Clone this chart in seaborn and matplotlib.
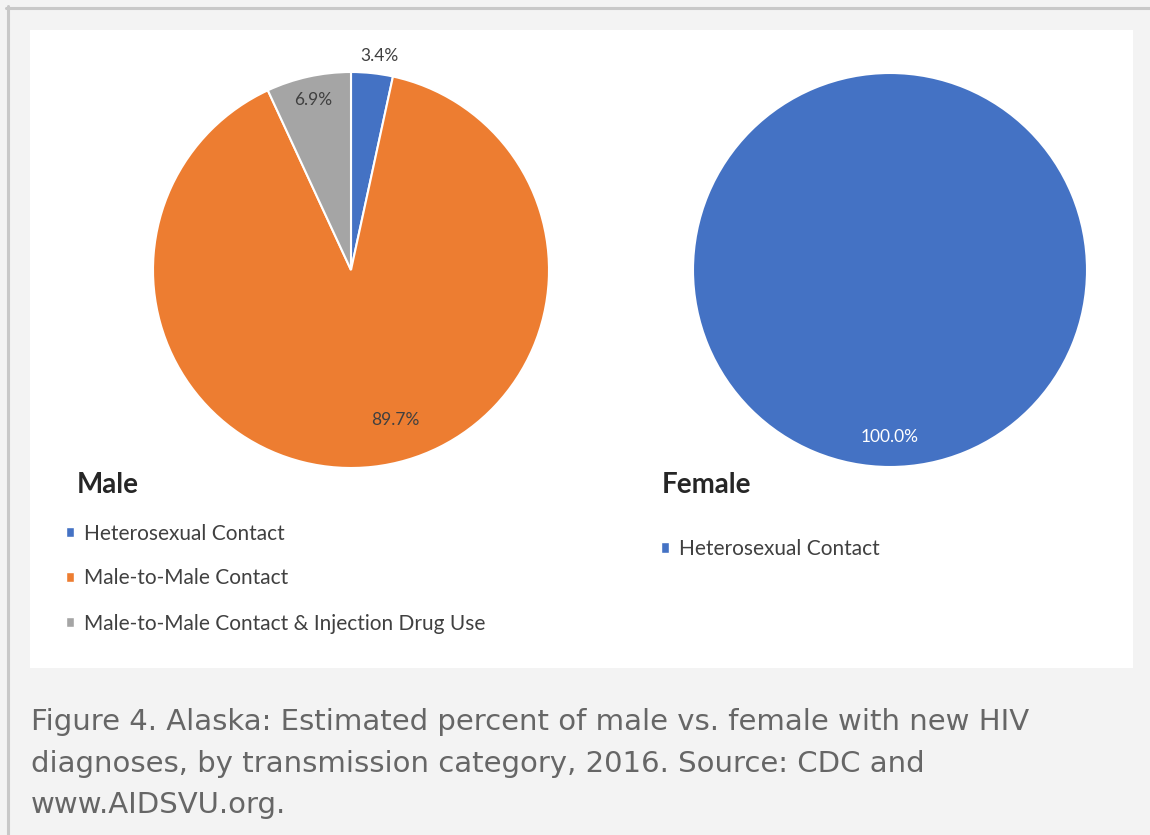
import matplotlib
matplotlib.use("Agg")
import numpy as np
import matplotlib.pyplot as plt
import seaborn as sns
from matplotlib.patches import Patch, Rectangle
from matplotlib.lines import Line2D

# ---- data ----
male_categories = ["Heterosexual Contact", "Male-to-Male Contact",
                   "Male-to-Male Contact & Injection Drug Use"]
male_values = [3.4, 89.7, 6.9]
female_categories = ["Heterosexual Contact"]
female_values = [100.0]
caption_lines = [
    "Figure 4. Alaska: Estimated percent of male vs. female with new HIV",
    "diagnoses, by transmission category, 2016. Source: CDC and",
    "www.AIDSVU.org.",
]

sns.set_theme(style="white")
plt.rcParams['font.family'] = ['Lato', 'DejaVu Sans']
palette = sns.color_palette(["#4472C4", "#ED7D31", "#A5A5A5"])

W, H = 1150, 835
fig = plt.figure(figsize=(W / 100, H / 100), dpi=100, facecolor="#f3f3f3")

# white panel and frame lines
fig.add_artist(Rectangle((30 / W, 1 - 668 / H), (1133 - 30) / W, (668 - 30) / H,
                         transform=fig.transFigure, facecolor="white",
                         edgecolor="none", zorder=0))
fig.add_artist(Line2D([6 / W, 1], [1 - 7.5 / H, 1 - 7.5 / H], transform=fig.transFigure,
                      color="#c8c8c8", lw=2.2))
fig.add_artist(Line2D([7.5 / W, 7.5 / W], [0, 1 - 6 / H], transform=fig.transFigure,
                      color="#c8c8c8", lw=2.2))


def px_axes(cx, cy, r, lim=1.25):
    size = 2 * lim * r
    ax = fig.add_axes([(cx - size / 2) / W, (H - cy - size / 2) / H, size / W, size / H])
    ax.set_xlim(-lim, lim)
    ax.set_ylim(-lim, lim)
    ax.set_aspect("equal")
    ax.axis("off")
    ax.patch.set_alpha(0)
    return ax


def mid_angles(vals):
    tot = sum(vals)
    angs = []
    start = 90.0
    for v in vals:
        sweep = v / tot * 360
        angs.append(start - sweep / 2)
        start -= sweep
    return angs


# ---- Male pie ----
axm = px_axes(351, 270, 198)
axm.pie(male_values, colors=palette, startangle=90, counterclock=False,
        wedgeprops=dict(edgecolor="white", linewidth=1.5))
label_r = [1.09, 0.79, 0.88]
label_off = [-1.5, 10.0, 0.0]
for v, a, r, o in zip(male_values, mid_angles(male_values), label_r, label_off):
    t = np.deg2rad(a + o)
    axm.text(r * np.cos(t), r * np.sin(t), f"{v:.1f}%", ha="center", va="center",
             fontsize=12.5, color="#404040")

# ---- Female pie ----
axf = px_axes(890, 270, 197)
axf.pie(female_values, colors=[palette[0]], startangle=90, counterclock=False,
        wedgeprops=dict(edgecolor="white", linewidth=1.5))
for v, a in zip(female_values, mid_angles(female_values)):
    t = np.deg2rad(a)
    axf.text(0.85 * np.cos(t), 0.85 * np.sin(t), f"{v:.1f}%", ha="center", va="center",
             fontsize=12.5, color="white")

# ---- legends ----
fig.text(77 / W, 1 - 493 / H, "Male", fontsize=20, fontweight="bold",
         color="#262626", ha="left", va="baseline")
fig.text(662 / W, 1 - 493 / H, "Female", fontsize=20, fontweight="bold",
         color="#262626", ha="left", va="baseline")

leg_kw = dict(loc="upper left", frameon=False, fontsize=15, handlelength=0.4,
              handleheight=0.4, handletextpad=0.45, labelspacing=1.2,
              borderpad=0, borderaxespad=0, labelcolor="#404040")
fig.legend(handles=[Patch(facecolor=c) for c in palette], labels=male_categories,
           bbox_to_anchor=(66 / W, 1 - 523.5 / H), **leg_kw)
fig.legend(handles=[Patch(facecolor=palette[0])], labels=female_categories,
           bbox_to_anchor=(661 / W, 1 - 539 / H), **leg_kw)

# ---- caption ----
for i, line in enumerate(caption_lines):
    fig.text(31 / W, 1 - (730 + 41.5 * i) / H, line, fontsize=21, color="#666666",
             family="DejaVu Sans", ha="left", va="baseline")

fig.savefig("out.png", dpi=100, facecolor=fig.get_facecolor())
